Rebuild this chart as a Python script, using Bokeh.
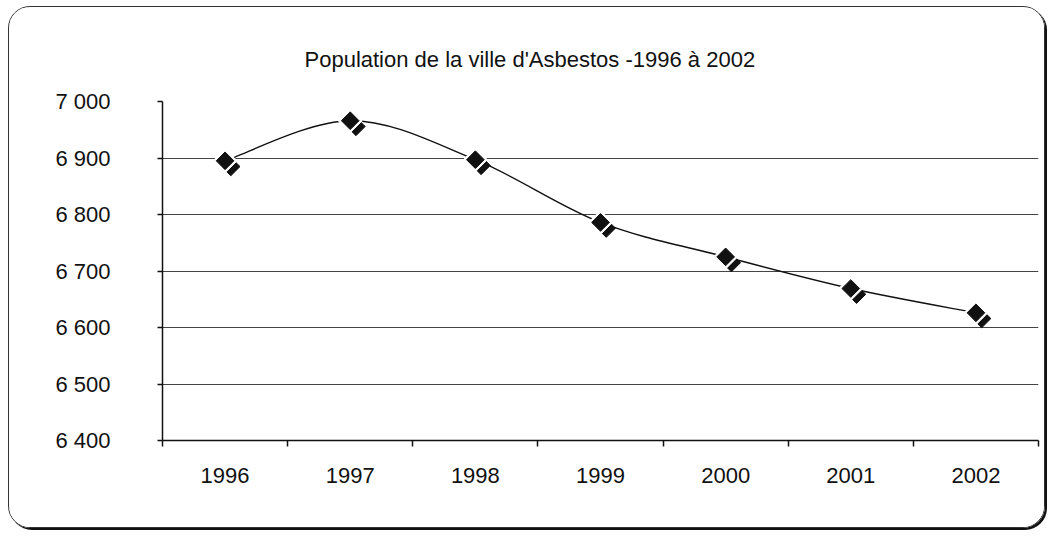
from bokeh.plotting import figure
from bokeh.models import FixedTicker, Range1d, ColumnDataSource
from bokeh.transform import dodge
from bokeh.embed import file_html
from bokeh.resources import INLINE

# ---- data ----
years = ["1996", "1997", "1998", "1999", "2000", "2001", "2002"]
population = [6895, 6966, 6897, 6786, 6725, 6669, 6626]
y_ticks = [6400, 6500, 6600, 6700, 6800, 6900, 7000]
y_tick_labels = ["6 400", "6 500", "6 600", "6 700", "6 800", "6 900", "7 000"]
chart_title = "Population de la ville d'Asbestos -1996 à 2002"

FONT = "Liberation Sans"
INK = "#111111"

xs = list(range(len(years)))
src = ColumnDataSource(dict(x=xs, y=population))

# smoothed line (Excel-like): cubic Bezier control points from neighbouring data points
n = len(xs)
seg = dict(x0=[], y0=[], x1=[], y1=[], cx0=[], cy0=[], cx1=[], cy1=[])
for i in range(n - 1):
    p0 = (xs[i], population[i])
    p1 = (xs[i + 1], population[i + 1])
    pm = (xs[i - 1], population[i - 1]) if i > 0 else p0
    pn = (xs[i + 2], population[i + 2]) if i + 2 < n else p1
    seg["x0"].append(p0[0]); seg["y0"].append(p0[1])
    seg["x1"].append(p1[0]); seg["y1"].append(p1[1])
    seg["cx0"].append(p0[0] + (p1[0] - pm[0]) / 6.0)
    seg["cy0"].append(p0[1] + (p1[1] - pm[1]) / 6.0)
    seg["cx1"].append(p1[0] - (pn[0] - p0[0]) / 6.0)
    seg["cy1"].append(p1[1] - (pn[1] - p0[1]) / 6.0)
seg_src = ColumnDataSource(seg)

p = figure(width=1037, height=522, output_backend="svg", toolbar_location=None,
           x_range=Range1d(-0.5, len(years) - 0.5), y_range=Range1d(y_ticks[0], y_ticks[-1]),
           min_border_left=153, min_border_right=8, min_border_top=94, min_border_bottom=89)
p.styles = {"border": "1.5px solid #333333", "border-radius": "22px",
            "box-shadow": "2px 2px 0 #111111", "overflow": "hidden",
            "margin-top": "6px", "margin-left": "8px"}
p.border_fill_color = "white"
p.background_fill_color = "white"
p.outline_line_color = None

# title
p.title.text = chart_title
p.title.align = "left"
p.title.offset = 142
p.title.standoff = 59
p.title.text_font = FONT
p.title.text_font_size = "22px"
p.title.text_font_style = "normal"
p.title.text_color = INK

# grid
p.xgrid.visible = False
p.ygrid.ticker = FixedTicker(ticks=y_ticks[1:-1])
p.ygrid.grid_line_color = "#444444"
p.ygrid.grid_line_width = 1

# axes
p.xaxis.ticker = FixedTicker(ticks=xs, minor_ticks=[i - 0.5 for i in range(len(years) + 1)])
p.xaxis.major_label_overrides = {i: years[i] for i in xs}
p.xaxis.major_tick_out = 0
p.xaxis.major_tick_in = 0
p.xaxis.minor_tick_out = 6
p.xaxis.minor_tick_in = 0
p.xaxis.minor_tick_line_color = INK
p.xaxis.major_label_standoff = 21

p.yaxis.ticker = FixedTicker(ticks=y_ticks)
p.yaxis.major_label_overrides = {v: l for v, l in zip(y_ticks, y_tick_labels)}
p.yaxis.major_tick_out = 5
p.yaxis.major_tick_in = 0
p.yaxis.minor_tick_line_color = None
p.yaxis.major_label_standoff = 47

for ax in (p.xaxis[0], p.yaxis[0]):
    ax.axis_line_color = INK
    ax.axis_line_width = 1.5
    ax.major_tick_line_color = INK
    ax.major_tick_line_width = 1.5
    ax.minor_tick_line_width = 1.5
    ax.major_label_text_font = FONT
    ax.major_label_text_font_size = "22px"
    ax.major_label_text_color = INK

# smoothed line
p.bezier(x0="x0", y0="y0", x1="x1", y1="y1", cx0="cx0", cy0="cy0", cx1="cx1", cy1="cy1",
         source=seg_src, line_color=INK, line_width=1.4)

# markers: offset shadow, white halo, black diamond
p.scatter(x=dodge("x", 0.046, range=p.x_range), y=dodge("y", -10.2, range=p.y_range), source=src,
          marker="square", angle=0.785398, size=13, fill_color=INK, line_color=INK)
p.scatter(x="x", y="y", source=src, marker="square", angle=0.785398, size=17,
          fill_color="white", line_color="white")
p.scatter(x="x", y="y", source=src, marker="square", angle=0.785398, size=12.5,
          fill_color=INK, line_color=INK)

open("out.html", "w").write(file_html(p, INLINE))
